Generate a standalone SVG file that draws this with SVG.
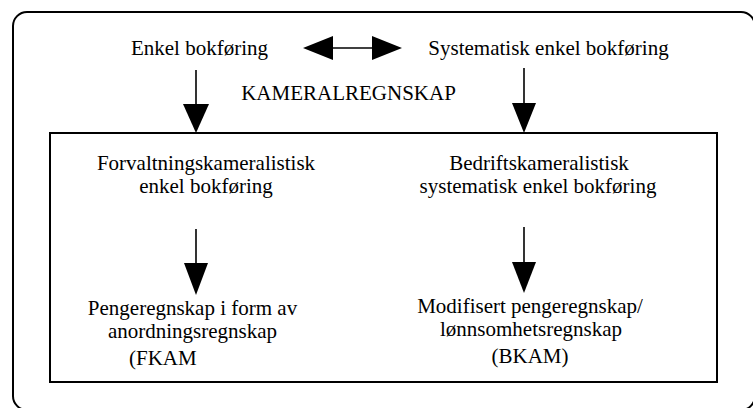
<svg xmlns="http://www.w3.org/2000/svg" width="753" height="408" viewBox="0 0 753 408">
  <style>
    .t { font-size: 21px; fill: #000; text-anchor: middle; }
    .frame { fill: none; stroke: #000; stroke-width: 2; }
    .ln { stroke: #000; stroke-width: 1.6; fill: none; }
    .head { fill: #000; stroke: none; }
  </style>
  <rect width="753" height="408" fill="#fff"/>

  <!-- outer rounded frame -->
  <g id="frame-outer">
    <rect class="frame" x="13" y="12" width="742" height="398" rx="14" ry="14"/>
  </g>

  <!-- inner box -->
  <g id="frame-inner">
    <rect class="frame" x="50" y="133" width="667" height="249"/>
  </g>

  <g font-family="Liberation Serif, Times New Roman, DejaVu Serif, serif">
    <g id="node-enkel">
      <text class="t" x="199.5" y="55">Enkel bokføring</text>
    </g>
    <g id="node-systematisk">
      <text class="t" x="548.5" y="55">Systematisk enkel bokføring</text>
    </g>
    <g id="node-kameral">
      <text class="t" x="348.5" y="100">KAMERALREGNSKAP</text>
    </g>
    <g id="node-forvaltning">
      <text class="t" x="206" y="170">Forvaltningskameralistisk</text>
      <text class="t" x="206" y="193">enkel bokføring</text>
    </g>
    <g id="node-bedrift">
      <text class="t" x="539" y="170">Bedriftskameralistisk</text>
      <text class="t" x="538" y="193">systematisk enkel bokføring</text>
    </g>
    <g id="node-fkam">
      <text class="t" x="192.5" y="315">Pengeregnskap i form av</text>
      <text class="t" x="192.5" y="338">anordningsregnskap</text>
      <text class="t" x="129" y="365" text-anchor="start" style="text-anchor:start">(FKAM</text>
    </g>
    <g id="node-bkam">
      <text class="t" x="530" y="313">Modifisert pengeregnskap/</text>
      <text class="t" x="531" y="336">lønnsomhetsregnskap</text>
      <text class="t" x="530" y="363">(BKAM)</text>
    </g>
  </g>

  <g id="connectors">
    <!-- double arrow between the two top labels -->
    <line class="ln" x1="330" y1="48" x2="375" y2="48"/>
    <polygon class="head" points="303,48 333,36 333,60"/>
    <polygon class="head" points="402,48 372,36 372,60"/>

    <!-- top arrows into the inner box -->
    <line class="ln" x1="196" y1="70" x2="196" y2="108"/>
    <polygon class="head" points="183,104 209,104 196,133"/>
    <line class="ln" x1="524" y1="68" x2="524" y2="106"/>
    <polygon class="head" points="512,103 536,103 524,133"/>

    <!-- lower arrows inside the box -->
    <line class="ln" x1="196" y1="229" x2="196" y2="266"/>
    <polygon class="head" points="184,263 208,263 196,295"/>
    <line class="ln" x1="524" y1="227" x2="524" y2="265"/>
    <polygon class="head" points="512,262 536,262 524,293"/>
  </g>
</svg>
